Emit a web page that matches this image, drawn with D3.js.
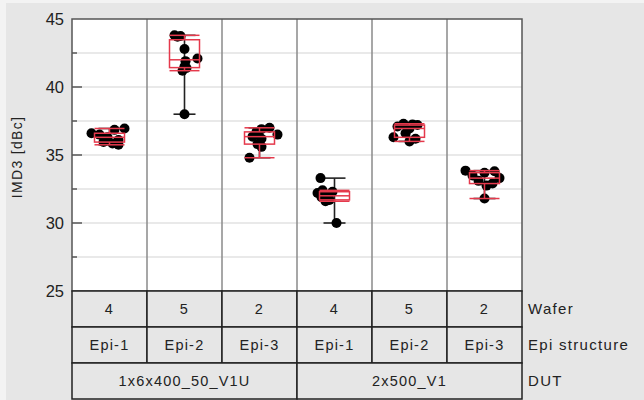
<!DOCTYPE html>
<html>
<head>
<meta charset="utf-8">
<script src="https://cdn.jsdelivr.net/npm/d3@7"></script>
<style>
  html, body { margin: 0; padding: 0; background: #f3f3f3; }
  svg { display: block; font-family: "Liberation Sans", Arial, sans-serif; }
</style>
</head>
<body>
<svg id="chart" width="644" height="400"></svg>
<script>
// Variability chart: IMD3 by DUT / Epi structure / Wafer
const dutLabels = ["1x6x400_50_V1U", "2x500_V1"];
const epiLabels = ["Epi-1", "Epi-2", "Epi-3", "Epi-1", "Epi-2", "Epi-3"];
const waferLabels = ["4", "5", "2", "4", "5", "2"];
const rowTitles = ["Wafer", "Epi structure", "DUT"];
const yTicks = [25, 30, 35, 40, 45];

// IMD3 [dBc] measurements per cell
const cell1 = [36.95, 36.85, 36.6, 36.5, 36.3, 36.1, 35.95, 35.85, 35.75];
const cell2 = [43.8, 43.75, 43.7, 42.8, 42.1, 41.9, 41.5, 41.4, 41.2, 38.0];
const cell3 = [37.0, 36.9, 36.7, 36.5, 36.35, 36.2, 35.8, 35.6, 34.8];
const cell4 = [33.3, 32.4, 32.3, 32.2, 32.0, 31.9, 31.7, 31.6, 30.0];
const cell5 = [37.3, 37.25, 37.2, 37.1, 36.95, 36.6, 36.3, 36.2, 36.0];
const cell6 = [33.85, 33.8, 33.7, 33.5, 33.3, 33.1, 32.9, 32.75, 31.8];
const cells = [cell1, cell2, cell3, cell4, cell5, cell6];

// horizontal spread of the points inside each cell (px)
const spread = [
  [15, 5, -18, -10, -2, 9, -6, 3, 9],
  [-10, -4, -7, 0, 13, 1, 0, 2, -2, 0],
  [10, 2, -3, 18, -7, 2, -2, 2, -10],
  [-14, -12, -2, -17, -8, -13, -5, -9, 2],
  [-6, 3, 8, -12, 0, -4, -16, 6, 0],
  [-19, 10, 0, -12, 15, -6, 8, 2, 0]
];

const svg = d3.select("#chart");
const L = 72, R = 522, T = 19, B = 291;
const rowH = 36;
const font = "\"Liberation Sans\", Arial, sans-serif";

svg.append("rect").attr("x", 6).attr("y", 3).attr("width", 638).attr("height", 397).attr("fill", "#e6e6e6");

const keys = d3.range(cells.length);
const x = d3.scaleBand().domain(keys).range([L, R]);
const y = d3.scaleLinear().domain([25, 45]).range([B, T]);

// plot area
svg.append("rect").attr("x", L).attr("y", T).attr("width", R - L).attr("height", B - T).attr("fill", "#fff");

// grid lines (major and minor)
const gridVals = d3.range(27.5, 45, 2.5);
svg.append("g").selectAll("line").data(gridVals).join("line")
  .attr("x1", L).attr("x2", R)
  .attr("y1", d => y(d)).attr("y2", d => y(d))
  .attr("stroke", "#e2e2e2").attr("stroke-width", 1.5);

// column separators
svg.append("g").selectAll("line").data(keys.slice(1)).join("line")
  .attr("x1", d => x(d)).attr("x2", d => x(d))
  .attr("y1", T).attr("y2", B)
  .attr("stroke", "#8a8a8a").attr("stroke-width", 1.5);

// y axis: inward ticks
const yAxis = d3.axisLeft(y).tickValues(yTicks).tickSize(0).tickPadding(8);
const ga = svg.append("g").attr("transform", `translate(${L},0)`).call(yAxis);
ga.select(".domain").remove();
ga.selectAll("text").attr("font-size", 16.5).attr("fill", "#222")
  .attr("font-family", font);
svg.append("g").selectAll("line").data(yTicks.slice(1, -1)).join("line")
  .attr("x1", L).attr("x2", L + 10).attr("y1", d => y(d)).attr("y2", d => y(d))
  .attr("stroke", "#333").attr("stroke-width", 1.2);
svg.append("g").selectAll("line").data(gridVals.filter(v => v % 5 !== 0)).join("line")
  .attr("x1", L).attr("x2", L + 5).attr("y1", d => y(d)).attr("y2", d => y(d))
  .attr("stroke", "#333").attr("stroke-width", 1.2);

svg.append("text")
  .attr("transform", `translate(22,${(T + B) / 2 + 2}) rotate(-90)`)
  .attr("text-anchor", "middle").attr("font-size", 14).attr("letter-spacing", 1.3)
  .attr("fill", "#222")
  .text("IMD3 [dBc]");

const red = "#e5394c";
const capW = 11, boxW = 15;

keys.forEach(i => {
  const vals = cells[i];
  const cx = x(i) + x.bandwidth() / 2;
  const g = svg.append("g");
  const mn = d3.min(vals), mx = d3.max(vals);

  // range bar
  g.append("line").attr("x1", cx).attr("x2", cx).attr("y1", y(mn)).attr("y2", y(mx))
    .attr("stroke", "#222").attr("stroke-width", 1.6);
  [mn, mx].forEach(v => g.append("line")
    .attr("x1", cx - capW).attr("x2", cx + capW).attr("y1", y(v)).attr("y2", y(v))
    .attr("stroke", "#222").attr("stroke-width", 1.6));

  // measurement points
  g.selectAll("circle").data(vals).join("circle")
    .attr("cx", (d, j) => cx + spread[i][j])
    .attr("cy", d => y(d))
    .attr("r", 5).attr("fill", "#000");

  // box plot
  const s = vals.slice().sort(d3.ascending);
  const q1 = d3.quantile(s, 0.25), med = d3.quantile(s, 0.5), q3 = d3.quantile(s, 0.75);
  const iqr = q3 - q1;
  const lo = d3.min(s.filter(v => v >= q1 - 1.5 * iqr));
  const hi = d3.max(s.filter(v => v <= q3 + 1.5 * iqr));
  g.append("line").attr("x1", cx).attr("x2", cx).attr("y1", y(lo)).attr("y2", y(q1))
    .attr("stroke", red).attr("stroke-width", 1.5);
  g.append("line").attr("x1", cx).attr("x2", cx).attr("y1", y(q3)).attr("y2", y(hi))
    .attr("stroke", red).attr("stroke-width", 1.5);
  [lo, hi, med].forEach(v => g.append("line")
    .attr("x1", cx - boxW).attr("x2", cx + boxW).attr("y1", y(v)).attr("y2", y(v))
    .attr("stroke", red).attr("stroke-width", 1.5));
  g.append("rect").attr("x", cx - boxW).attr("y", y(q3))
    .attr("width", 2 * boxW).attr("height", y(q1) - y(q3))
    .attr("fill", "none").attr("stroke", red).attr("stroke-width", 1.5);
});

// plot frame
svg.append("rect").attr("x", L).attr("y", T).attr("width", R - L).attr("height", B - T)
  .attr("fill", "none").attr("stroke", "#555").attr("stroke-width", 1.5);

// category table below the plot
const table = svg.append("g");
const rowsData = [
  keys.map(i => ({ x0: x(i), x1: x(i) + x.bandwidth(), label: waferLabels[i] })),
  keys.map(i => ({ x0: x(i), x1: x(i) + x.bandwidth(), label: epiLabels[i] })),
  dutLabels.map((d, k) => ({ x0: x(k * 3), x1: x(k * 3 + 2) + x.bandwidth(), label: d }))
];
rowsData.forEach((row, r) => {
  const y0 = B + r * rowH;
  table.append("g").selectAll("rect").data(row).join("rect")
    .attr("x", d => d.x0).attr("y", y0).attr("width", d => d.x1 - d.x0).attr("height", rowH)
    .attr("fill", "#e6e6e6").attr("stroke", "#222").attr("stroke-width", 1.5);
  table.append("g").selectAll("text").data(row).join("text")
    .attr("x", d => (d.x0 + d.x1) / 2).attr("y", y0 + rowH / 2)
    .attr("dy", "0.36em").attr("text-anchor", "middle")
    .attr("font-size", 14.5).attr("letter-spacing", 1.2)
    .attr("fill", "#222").text(d => d.label);
  table.append("text").attr("x", R + 6).attr("y", y0 + rowH / 2).attr("dy", "0.36em")
    .attr("font-size", 15).attr("letter-spacing", 1.3)
    .attr("fill", "#222").text(rowTitles[r]);
});
</script>
</body>
</html>
